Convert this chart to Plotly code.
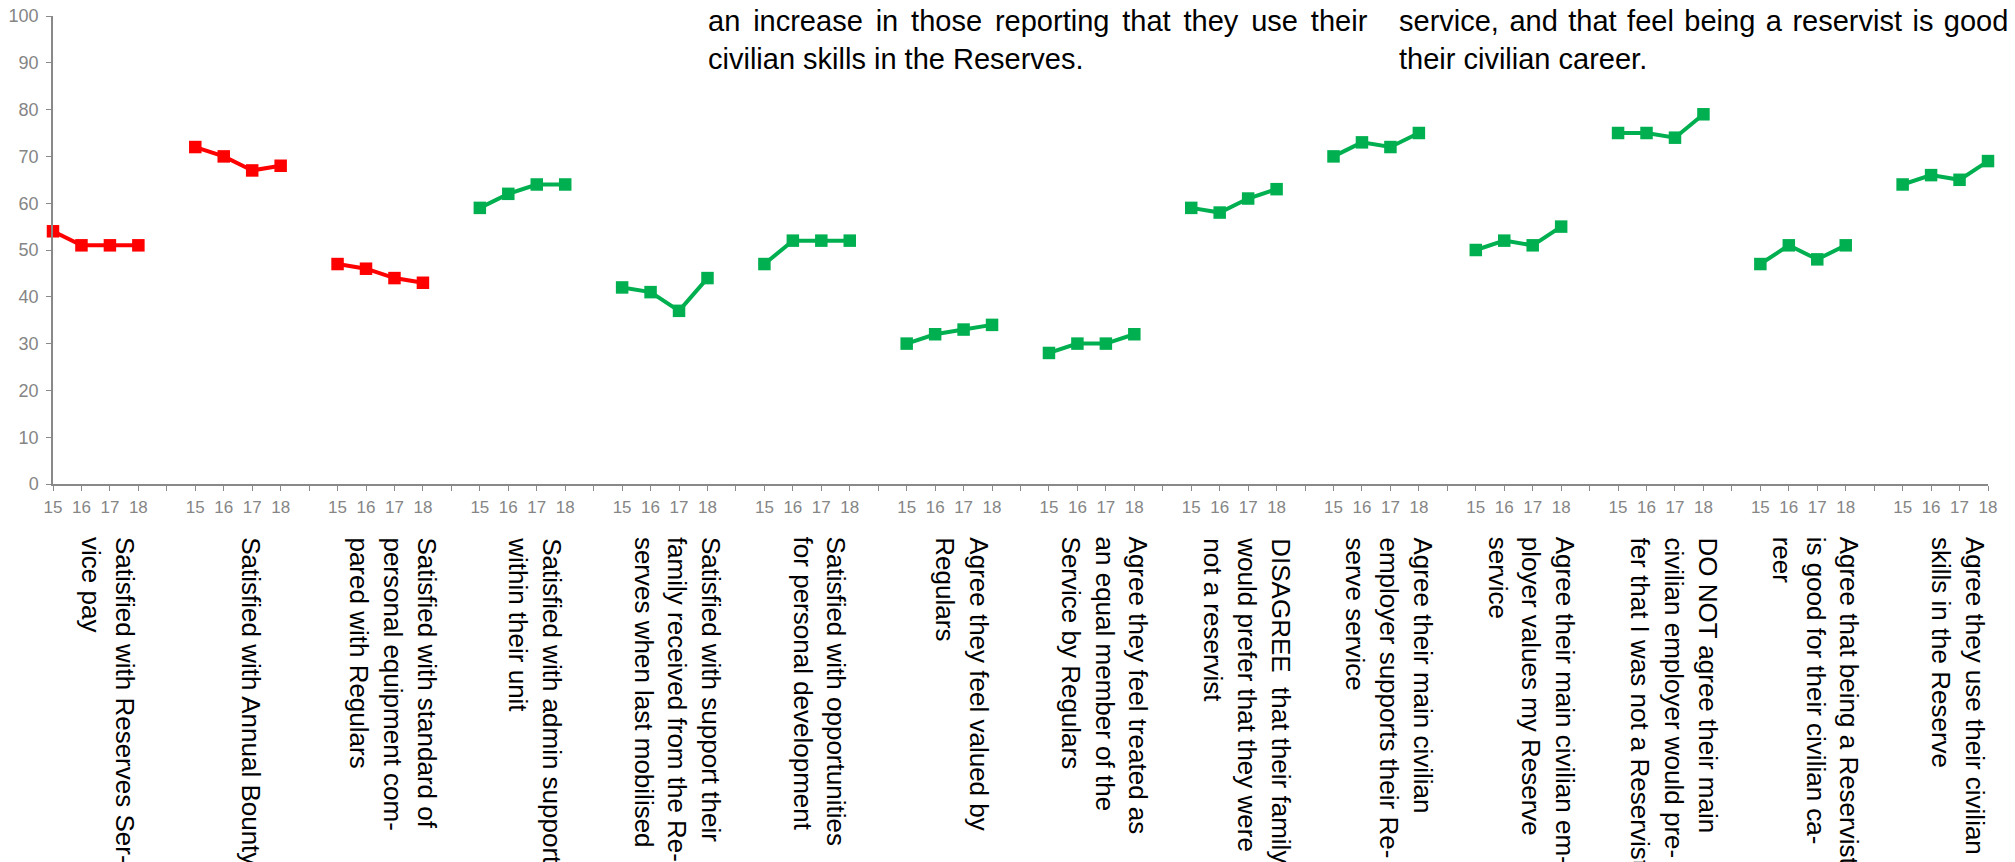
import plotly.graph_objects as go

# ---------------- data ----------------
years = ["15", "16", "17", "18"]

categories = [
    "Satisfied with Reserves Ser-<br>vice pay",
    "Satisfied with Annual Bounty",
    "Satisfied with standard of<br>personal equipment com-<br>pared with Regulars",
    "Satisfied with admin support<br>within their unit",
    "Satisfied with support their<br>family received from the Re-<br>serves when last mobilised",
    "Satisfied with opportunities<br>for personal development",
    "Agree they feel valued by<br>Regulars",
    "Agree they feel treated as<br>an equal member of the<br>Service by Regulars",
    "DISAGREE\u00a0 that their family<br>would prefer that they were<br>not a reservist",
    "Agree their main civilian<br>employer supports their Re-<br>serve service",
    "Agree their main civilian em-<br>ployer values my Reserve<br>service",
    "DO NOT agree their main<br>civilian employer would pre-<br>fer that I was not a Reservist",
    "Agree that being a Reservist<br>is good for their civilian ca-<br>reer",
    "Agree they use their civilian<br>skills in the Reserve",
]

values = [
    [54, 51, 51, 51],
    [72, 70, 67, 68],
    [47, 46, 44, 43],
    [59, 62, 64, 64],
    [42, 41, 37, 44],
    [47, 52, 52, 52],
    [30, 32, 33, 34],
    [28, 30, 30, 32],
    [59, 58, 61, 63],
    [70, 73, 72, 75],
    [50, 52, 51, 55],
    [75, 75, 74, 79],
    [47, 51, 48, 51],
    [64, 66, 65, 69],
]

# red = decline, green = improvement
trend = ["down", "down", "down", "up", "up", "up", "up",
         "up", "up", "up", "up", "up", "up", "up"]

note_left = ["an increase in those reporting that they use their",
             "civilian skills in the Reserves."]
note_right = ["service, and that feel being a reservist is good",
              "their civilian career."]

RED = "#FF0000"
GREEN = "#00B050"
AXIS_GREY = "#898989"
TICK_GREY = "#858585"
FONT = "Liberation Sans, Arial, sans-serif"

# ---------------- layout geometry ----------------
W, H = 2015, 862
ML, MR, MT, MB = 53, 27, 16, 378
PW = W - ML - MR
PH = H - MT - MB
SLOT = len(years) + 1          # 4 years + 1 empty slot between groups
NPOS = len(categories) * SLOT - 1


def px_to_paper_x(px):
    return (px - ML) / PW


def px_to_paper_y(py):
    return (H - MB - py) / PH


fig = go.Figure()

for kind, color in (("down", RED), ("up", GREEN)):
    xs, ys = [], []
    for g, (vals, t) in enumerate(zip(values, trend)):
        if t != kind:
            continue
        for i, v in enumerate(vals):
            xs.append(g * SLOT + i)
            ys.append(v)
        xs.append(None)
        ys.append(None)
    fig.add_trace(go.Scatter(
        x=xs, y=ys, mode="lines+markers",
        line=dict(color=color, width=4),
        marker=dict(symbol="square", size=12.5, color=color),
        connectgaps=False, cliponaxis=False, showlegend=False,
        hoverinfo="skip",
    ))

tickvals = list(range(NPOS))
ticktext = [years[p % SLOT] if p % SLOT < len(years) else "" for p in tickvals]

fig.update_xaxes(
    range=[0, NPOS - 1], tickmode="array", tickvals=tickvals, ticktext=ticktext,
    showgrid=False, zeroline=False, showline=True, linecolor=AXIS_GREY,
    linewidth=1.5, ticks="outside", ticklen=5, tickcolor=AXIS_GREY, tickwidth=1,
    tickangle=0, tickfont=dict(family=FONT, size=17, color=TICK_GREY),
    ticklabelstandoff=2,
)
fig.update_yaxes(
    range=[0, 100], dtick=10, tick0=0,
    showgrid=False, zeroline=False, showline=True, linecolor=AXIS_GREY,
    linewidth=1.5, ticks="outside", ticklen=5, tickcolor=AXIS_GREY, tickwidth=1,
    tickfont=dict(family=FONT, size=18, color=TICK_GREY),
    ticklabelstandoff=4,
)

annotations = []
for g, label in enumerate(categories):
    center = g * SLOT + (len(years) - 1) / 2 + 0.45
    annotations.append(dict(
        x=center, xref="x", y=px_to_paper_y(535), yref="paper",
        text=label, textangle=90, showarrow=False,
        xanchor="center", yanchor="top", align="left",
        font=dict(family=FONT, size=26, color="#000000"),
    ))

# justified first lines: widen the word gaps slightly
for lines, left_px, gap in ((note_left, 706, " \u2006"), (note_right, 1397, " \u200a")):
    first = gap.join(lines[0].split(" "))
    annotations.append(dict(
        x=px_to_paper_x(left_px), xref="paper",
        y=px_to_paper_y(3), yref="paper",
        text="<br>".join([first] + lines[1:]), showarrow=False,
        xanchor="left", yanchor="top", align="left",
        font=dict(family=FONT, size=29, color="#000000"),
    ))

fig.update_layout(
    width=W, height=H,
    margin=dict(l=ML, r=MR, t=MT, b=MB, autoexpand=False),
    paper_bgcolor="white", plot_bgcolor="white",
    annotations=annotations,
    font=dict(family=FONT),
)

fig.write_html("out.html")
